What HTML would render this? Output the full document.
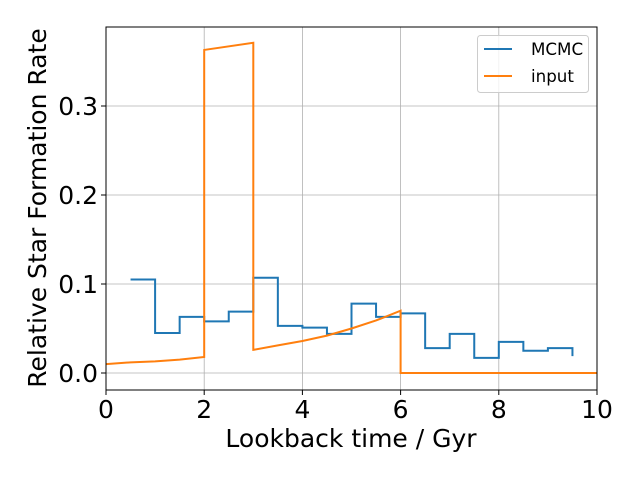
<!DOCTYPE html>
<html><head><meta charset="utf-8"><style>
body{margin:0;background:#fff;}
svg{font-family:"DejaVu Sans",sans-serif;}
</style></head><body>
<svg id="chart" width="640" height="480"></svg>
<script>
const mcmcX=[0.5,1,1.5,2,2.5,3,3.5,4,4.5,5,5.5,6,6.5,7,7.5,8,8.5,9,9.5];
const mcmcY=[0.105,0.045,0.063,0.058,0.069,0.107,0.053,0.051,0.044,0.078,0.063,0.067,0.028,0.044,0.017,0.035,0.025,0.028,0.019];
const inputX=[0,0.5,1,1.5,2,2,3,3,3.5,4,4.5,5,5.5,6,6,10];
const inputY=[0.010,0.012,0.013,0.015,0.018,0.363,0.371,0.026,0.031,0.036,0.042,0.050,0.059,0.070,0,0];
const xTicks=[0,2,4,6,8,10];
const yTicks=[0.0,0.1,0.2,0.3];
const yTickLabels=["0.0","0.1","0.2","0.3"];
const L=106,R=597,T=27,B=390;
const xs=v=>L+(v-0)/10*(R-L);
const ys=v=>373-v*890;
const svg=document.getElementById('chart');
const NS='http://www.w3.org/2000/svg';
function mk(t,a){const e=document.createElementNS(NS,t);for(const k in a)e.setAttribute(k,a[k]);svg.appendChild(e);return e;}
xTicks.forEach((v,i)=>{
 const g=mk('line',{x1:xs(v),x2:xs(v),y1:T,y2:B,stroke:'#b0b0b0','stroke-width':0.8});
 
 
 mk('line',{x1:xs(v),x2:xs(v),y1:B,y2:B+5,stroke:'#000'});
 const t=mk('text',{x:xs(v),y:B+28,'text-anchor':'middle','font-size':25});
 t.textContent=v;
 
 
});
yTicks.forEach((v,i)=>{
 const g=mk('line',{x1:L,x2:R,y1:ys(v),y2:ys(v),stroke:'#b0b0b0','stroke-width':0.8});
 
 
 mk('line',{x1:L-5,x2:L,y1:ys(v),y2:ys(v),stroke:'#000'});
 const t=mk('text',{x:L-8,y:ys(v)+9,'text-anchor':'end','font-size':25});
 t.textContent=yTickLabels[i];
 
 
});
let d='';
mcmcX.forEach((x,i)=>{
 if(i===0)d+=`M${xs(x)},${ys(mcmcY[0])}`;
 else d+=`L${xs(x)},${ys(mcmcY[i-1])}L${xs(x)},${ys(mcmcY[i])}`;
});
const p1=mk('path',{d:d,fill:'none',stroke:'#1f77b4','stroke-width':2});


const p2=mk('path',{d:inputX.map((x,i)=>(i?'L':'M')+xs(x)+','+ys(inputY[i])).join(''),fill:'none',stroke:'#ff7f0e','stroke-width':2});


const fr=mk('rect',{x:L,y:T,width:R-L,height:B-T,fill:'none',stroke:'#000','stroke-width':1});


</script>
<svg style="position:absolute;left:0;top:0" width="640" height="480">
<text x="351" y="447" text-anchor="middle" font-size="25" font-family="DejaVu Sans, sans-serif">Lookback time / Gyr</text>
<text transform="translate(46,208) rotate(-90)" text-anchor="middle" font-size="25" font-family="DejaVu Sans, sans-serif">Relative Star Formation Rate</text>
<g>
<rect x="477.5" y="35.5" width="111" height="57" rx="3" fill="#fff" fill-opacity="0.8" stroke="#ccc"/>
<line x1="484" x2="512" y1="49" y2="49" stroke="#1f77b4" stroke-width="2"/>
<text x="531" y="55" font-size="16.7" font-family="DejaVu Sans, sans-serif">MCMC</text>
<line x1="484" x2="512" y1="76" y2="76" stroke="#ff7f0e" stroke-width="2"/>
<text x="531" y="82" font-size="16.7" font-family="DejaVu Sans, sans-serif">input</text>
</g>
</svg>
</body></html>
